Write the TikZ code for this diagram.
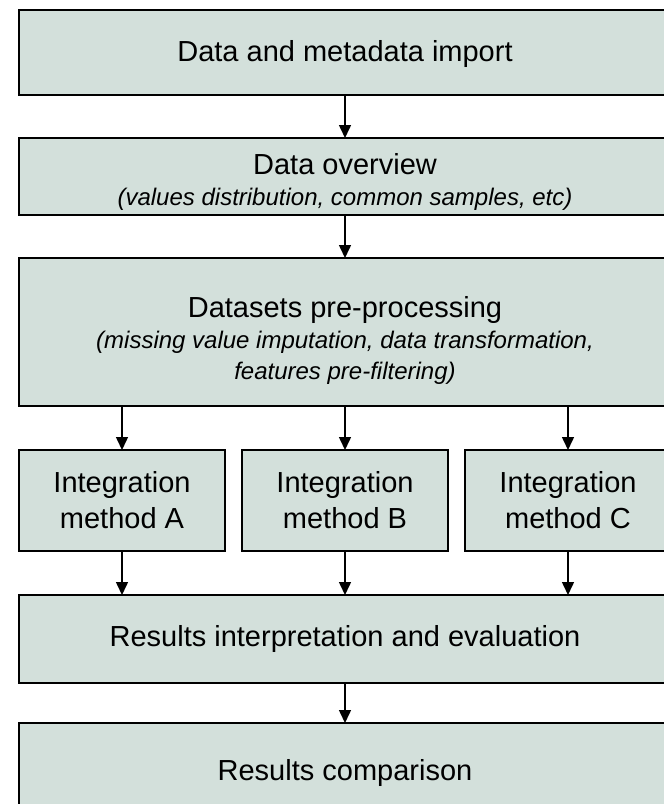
\documentclass[tikz,border=0pt]{standalone}
\usepackage{fontspec}
\setmainfont{Liberation Sans}
\usetikzlibrary{arrows.meta}
\definecolor{boxfill}{RGB}{211,224,219}
\tikzset{
  flowbox/.style={draw=black, line width=2pt, fill=boxfill, rectangle, inner sep=0pt, outer sep=0pt, align=center, text=black},
  mainfont/.style={font=\fontsize{29}{36}\selectfont},
  subfont/.style={font=\fontsize{24}{31}\selectfont},
  flowarrow/.style={draw=black, line width=1.5pt, -{Triangle[width=12pt,length=13pt]}}
}
\newcommand{\boxtitle}[2]{{\fontsize{29}{31}\selectfont\rule{0pt}{#1}#2}}
\begin{document}
\begin{tikzpicture}[x=1pt,y=-1pt]
\useasboundingbox (0,0) rectangle (664,804);
\clip (0,0) rectangle (664,804);
\node[flowbox, mainfont, minimum width=652pt, minimum height=85pt] (imp) at (345,52.5) {\rule{0pt}{25pt}Data and metadata import};
\node[flowbox, subfont, minimum width=652pt, minimum height=77pt] (ovw) at (345,176.5) {\boxtitle{32pt}{Data overview}\\ \itshape (values distribution, common samples, etc)};
\node[flowbox, subfont, minimum width=652pt, minimum height=148pt] (pre) at (345,332) {\boxtitle{38pt}{Datasets pre-processing}\\ \itshape (missing value imputation, data transformation,\\ \itshape features pre-filtering)};
\node[flowbox, mainfont, minimum width=206pt, minimum height=101pt] (ma) at (122,500.5) {Integration\\method A};
\node[flowbox, mainfont, minimum width=206pt, minimum height=101pt] (mb) at (345,500.5) {Integration\\method B};
\node[flowbox, mainfont, minimum width=206pt, minimum height=101pt] (mc) at (568,500.5) {Integration\\method C};
\node[flowbox, mainfont, minimum width=652pt, minimum height=88pt] (res) at (345,639) {Results interpretation and evaluation};
\node[flowbox, minimum width=652pt, minimum height=104pt] (cmp) at (345,775) {};
\node[mainfont, inner sep=0pt] (cmptext) at (345,773) {Results comparison};
\draw[flowarrow] (imp.south) -- (ovw.north);
\draw[flowarrow] (ovw.south) -- (pre.north);
\draw[flowarrow] (ma.north |- pre.south) -- (ma.north);
\draw[flowarrow] (mb.north |- pre.south) -- (mb.north);
\draw[flowarrow] (mc.north |- pre.south) -- (mc.north);
\draw[flowarrow] (ma.south) -- (ma.south |- res.north);
\draw[flowarrow] (mb.south) -- (mb.south |- res.north);
\draw[flowarrow] (mc.south) -- (mc.south |- res.north);
\draw[flowarrow] (res.south) -- (cmp.north);
\end{tikzpicture}
\end{document}
